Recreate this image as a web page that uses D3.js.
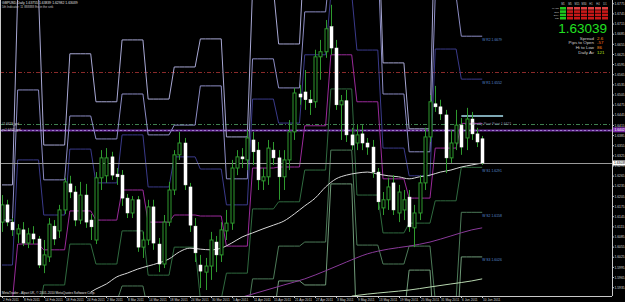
<!DOCTYPE html>
<html><head><meta charset="utf-8">
<script src="https://cdn.jsdelivr.net/npm/d3@7"></script>
<style>html,body{margin:0;padding:0;background:#000;overflow:hidden}svg{display:block}text{font-family:"Liberation Sans",Arial,sans-serif}</style>
</head><body><svg id="c" width="625" height="302"></svg>
<script>
// ---- data ----
const dateLabels = ["2 Feb 2011","8 Feb 2011","14 Feb 2011","18 Feb 2011","24 Feb 2011","2 Mar 2011","8 Mar 2011","14 Mar 2011","18 Mar 2011","24 Mar 2011","30 Mar 2011","5 Apr 2011","11 Apr 2011","15 Apr 2011","21 Apr 2011","27 Apr 2011","3 May 2011","9 May 2011","13 May 2011","19 May 2011","25 May 2011","31 May 2011","6 Jun 2011","10 Jun 2011"];
const dateBars = [0,4,8,12,16,20,24,28,32,36,40,44,48,52,56,60,64,68,72,76,80,84,88,92];
const opens = [1.6129,1.6180,1.6129,1.6094,1.6106,1.6067,1.6094,1.6079,1.6002,1.6026,
1.6117,1.6103,1.6165,1.6242,1.6218,1.6135,1.6209,1.6135,1.6076,1.6260,
1.6266,1.6322,1.6271,1.6268,1.6200,1.6156,1.6195,1.6055,1.6076,1.6174,
1.6064,1.6005,1.6129,1.6224,1.6328,1.6363,1.6233,1.6117,1.6002,1.5981,
1.5999,1.6070,1.6032,1.6103,1.6126,1.6289,1.6322,1.6313,1.6372,1.6342,
1.6251,1.6263,1.6342,1.6319,1.6263,1.6313,1.6396,1.6508,1.6514,1.6491,
1.6485,1.6618,1.6633,1.6707,1.6644,1.6476,1.6488,1.6387,1.6363,1.6390,
1.6363,1.6351,1.6277,1.6171,1.6195,1.6245,1.6156,1.6165,1.6203,1.6112,
1.6156,1.6245,1.6381,1.6479,1.6470,1.6446,1.6319,1.6363,1.6416,1.6378,
1.6434,1.6390,1.63755];
const highs = [1.6209,1.6195,1.6141,1.6123,1.6129,1.6112,1.6117,1.6088,1.6076,1.6141,
1.6135,1.6180,1.6260,1.6266,1.6236,1.6248,1.6242,1.6153,1.6277,1.6342,
1.6348,1.6337,1.6289,1.6283,1.6212,1.6206,1.6206,1.6100,1.6195,1.6195,
1.6082,1.6150,1.6248,1.6342,1.6396,1.6378,1.6245,1.6141,1.6032,1.6023,
1.6100,1.6088,1.6129,1.6165,1.6313,1.6342,1.6348,1.6402,1.6396,1.6366,
1.6289,1.6372,1.6366,1.6342,1.6342,1.6431,1.6526,1.6535,1.6579,1.6520,
1.6639,1.6668,1.6727,1.6772,1.6668,1.6505,1.6520,1.6408,1.6416,1.6416,
1.6378,1.6372,1.6289,1.6218,1.6260,1.6268,1.6239,1.6224,1.6224,1.6180,
1.6268,1.6408,1.6505,1.6532,1.6491,1.6461,1.6402,1.6461,1.6437,1.6467,
1.6455,1.6408,1.63839];
const lows = [1.6100,1.6117,1.6088,1.6067,1.6058,1.6052,1.6064,1.5993,1.5978,1.6011,
1.6061,1.6082,1.6153,1.6200,1.6117,1.6123,1.6112,1.6076,1.6064,1.6224,
1.6245,1.6254,1.6239,1.6177,1.6141,1.6141,1.6041,1.6023,1.6061,1.6047,
1.5981,1.5993,1.6117,1.6209,1.6313,1.6224,1.6100,1.6011,1.5934,1.5928,
1.5958,1.5981,1.6011,1.6076,1.6106,1.6268,1.6289,1.6283,1.6298,1.6224,
1.6224,1.6239,1.6298,1.6195,1.6224,1.6283,1.6372,1.6476,1.6461,1.6446,
1.6467,1.6550,1.6615,1.6624,1.6461,1.6372,1.6366,1.6342,1.6342,1.6342,
1.6328,1.6260,1.6165,1.6150,1.6165,1.6150,1.6129,1.6135,1.6100,1.6055,
1.6135,1.6224,1.6366,1.6455,1.6431,1.6274,1.6304,1.6342,1.6328,1.6342,
1.6372,1.6351,1.62982];
const closes = [1.6180,1.6129,1.6106,1.6109,1.6067,1.6094,1.6079,1.6002,1.6032,1.6123,
1.6079,1.6165,1.6248,1.6218,1.6135,1.6209,1.6129,1.6115,1.6260,1.6319,
1.6319,1.6268,1.6263,1.6200,1.6156,1.6195,1.6055,1.6076,1.6174,1.6067,
1.6005,1.6129,1.6224,1.6328,1.6363,1.6239,1.6120,1.6038,1.5984,1.5999,
1.6076,1.6032,1.6106,1.6126,1.6289,1.6322,1.6316,1.6378,1.6337,1.6254,
1.6263,1.6348,1.6319,1.6263,1.6313,1.6396,1.6511,1.6499,1.6491,1.6482,
1.6618,1.6633,1.6701,1.6644,1.6476,1.6488,1.6387,1.6357,1.6387,1.6363,
1.6351,1.6277,1.6189,1.6195,1.6233,1.6165,1.6218,1.6195,1.6115,1.6156,
1.6245,1.6381,1.6485,1.6470,1.6449,1.6319,1.6363,1.6416,1.6351,1.6434,
1.6390,1.6366,1.63039];

// weekly pivot levels (one value per week)
const weekStarts = [0,3,8,13,18,23,28,33,38,43,48,53,58,63,68,73,78,83,88];
const wR3 = [1.6239,1.6801,1.6357,1.6627,1.6485,1.6668,1.6493,1.6588,1.6671,1.6381,1.6819,1.6656,1.6964,1.7171,1.7068,1.6600,1.6405,1.7092,1.6816];
const wR2 = [1.6135,1.6520,1.6254,1.6443,1.6375,1.6508,1.6387,1.6416,1.6532,1.6257,1.6612,1.6526,1.6751,1.6905,1.6920,1.6508,1.6337,1.6798,1.6679];
const wR1 = [1.6002,1.6313,1.6150,1.6345,1.6245,1.6387,1.6233,1.6322,1.6286,1.6180,1.6493,1.6422,1.6624,1.6804,1.6638,1.6348,1.6266,1.6641,1.6552];
const wPP = [1.5898,1.6064,1.6047,1.6162,1.6135,1.6224,1.6129,1.6150,1.6147,1.6058,1.6289,1.6292,1.6414,1.6624,1.6485,1.6257,1.6200,1.6348,1.6421];
const wS1 = [1.5780,1.5857,1.5943,1.6064,1.6005,1.6103,1.5972,1.6055,1.5901,1.5978,1.6168,1.6189,1.6283,1.6523,1.6209,1.6097,1.6126,1.6192,1.6291];
const wS2 = [1.5662,1.5608,1.5839,1.5881,1.5895,1.5940,1.5866,1.5884,1.5762,1.5854,1.5961,1.6058,1.6070,1.6342,1.6061,1.6005,1.6058,1.5898,1.6158];
const wS3 = [1.5543,1.5454,1.5736,1.5783,1.5765,1.5819,1.5712,1.5789,1.5517,1.5777,1.5842,1.5955,1.5943,1.6242,1.5780,1.5845,1.5987,1.5742,1.6026];

// moving averages (sampled bars)
const maWhiteBars = [17,18,20,22,24,26,28,30,32,34,36,38,40,42,44,46,48,50,52,54,56,58,60,62,64,66,68,70,72,74,76,78,80,82,84,86,88,90,92];
const maWhite = [1.5922,1.5931,1.5946,1.5967,1.5978,1.5990,1.5999,1.6008,1.6020,1.6041,1.6052,1.6049,1.6047,1.6052,1.6067,1.6085,1.6097,1.6109,1.6120,1.6132,1.6153,1.6177,1.6200,1.6233,1.6257,1.6268,1.6274,1.6277,1.6271,1.6266,1.6263,1.6257,1.6263,1.6268,1.6277,1.6283,1.6292,1.6298,1.6304];
const maPurpleBars = [46,50,54,58,62,66,70,74,78,82,86,90,92];
const maPurple = [1.5907,1.5925,1.5943,1.5961,1.5985,1.6011,1.6035,1.6049,1.6058,1.6070,1.6088,1.6106,1.6112];
const maGreenBars = [67,70,74,78,82,86,90,92];
const maGreen = [1.5910,1.5916,1.5922,1.5928,1.5937,1.5946,1.5955,1.5961];

const priceTicks = [1.6775,1.6745,1.6715,1.6685,1.6655,1.6625,1.6595,1.6565,1.6535,1.6505,1.6475,1.6445,1.6415,1.6385,1.6355,1.6325,1.6295,1.6265,1.6235,1.6205,1.6175,1.6145,1.6115,1.6085,1.6055,1.6025,1.5995,1.5965,1.5935];
const levelRed = 1.6573, levelGreen = 1.6419, levelPurple = 1.6402, bid = 1.63039, cyanLevel = 1.6443;

// ---- drawing ----
const svg = d3.select("#c");
const PW = 612, PH = 296;
const x = d3.scaleLinear().domain([0,92]).range([2,482.2]);
const y = d3.scaleLinear().domain([1.59222,1.67861]).range([292,0]);
svg.append("rect").attr("width",625).attr("height",302).attr("fill","#000");
svg.append("defs").append("clipPath").attr("id","clip").append("rect").attr("x",0).attr("y",0).attr("width",PW).attr("height",PH);
const g = svg.append("g").attr("clip-path","url(#clip)");

function hline(v, col, dash, w){ g.append("line").attr("x1",0).attr("x2",PW).attr("y1",Math.round(y(v))+0.5).attr("y2",Math.round(y(v))+0.5).attr("stroke",col).attr("stroke-width",w||1).attr("stroke-dasharray",dash||null); }
hline(levelRed,"#8a2a2a","4,2,1,2");
hline(levelGreen,"#3f7f4f","4,2,1,2");
hline(levelPurple,"#6a2a9a",null,2);
hline(levelPurple,"#a080d0","2,2",1);

const weekOf = i => { let k=0; for(let j=0;j<weekStarts.length;j++) if(i>=weekStarts[j]) k=j; return k; };
const bars = d3.range(opens.length);
const series = [[wR3,"#a8a8d4"],[wR2,"#8c8cc4"],[wR1,"#3a3a8a"],[wPP,"#9a2a9a"],[wS1,"#2f6a3f"],[wS2,"#4c7a58"],[wS3,"#6f9a78"]];
series.forEach(([arr,col])=>{
  const pts = bars.map(i=>({i, v:y(arr[weekOf(i)])}));
  g.append("path").attr("d", d3.line().x(d=>x(d.i)).y(d=>d.v)(pts)).attr("fill","none").attr("stroke",col).attr("stroke-width",1);
});

function ma(barsArr, vals, col){
  g.append("path").attr("d", d3.line().x((d,k)=>x(barsArr[k])).y(d=>y(d)).curve(d3.curveMonotoneX)(vals)).attr("fill","none").attr("stroke",col).attr("stroke-width",1);
}
ma(maPurpleBars, maPurple, "#8a3a9a");
ma(maGreenBars, maGreen, "#b8d8b0");
ma(maWhiteBars, maWhite, "#d8d8d8");

hline(bid,"#9a9a9a",null,1);
g.append("line").attr("x1",x(88)).attr("x2",x(96)).attr("y1",y(cyanLevel)).attr("y2",y(cyanLevel)).attr("stroke","#a8e0f0").attr("stroke-width",1.5);

const bw = 3;
bars.forEach(i=>{
  const o=opens[i], c=closes[i], bull = c>=o;
  const cx = Math.round(x(i))+0.5;
  g.append("line").attr("x1",cx).attr("x2",cx).attr("y1",y(highs[i])).attr("y2",y(lows[i])).attr("stroke","#2e9a2e").attr("stroke-width",1);
  const top = y(Math.max(o,c)), bot = y(Math.min(o,c));
  g.append("rect").attr("x",cx-bw/2).attr("y",top).attr("width",bw).attr("height",Math.max(1,bot-top))
   .attr("fill", bull?"#000":"#ffffff").attr("stroke", bull?"#2e9a2e":"#ffffff").attr("stroke-width",bull?1:0.5);
});

const lastX = x(92);
[[wR2,"W R2"],[wR1,"W R1"],[wS1,"W S1"],[wS2,"W S2"],[wS3,"W S3"]].forEach(([arr,nm])=>{
  const v = arr[arr.length-1];
  svg.append("text").attr("x",lastX).attr("y",y(v)+4.5).attr("font-size",3.4).attr("fill","#5a8ad0").text(nm+"  "+v.toFixed(4));
});
svg.append("text").attr("x",x(90)).attr("y",y(wPP[wPP.length-1])+1.5).attr("font-size",3.4).attr("fill","#8a8aa8").text("Weekly Pivot Point  "+wPP[wPP.length-1].toFixed(4));

svg.append("line").attr("x1",PW+0.5).attr("x2",PW+0.5).attr("y1",0).attr("y2",PH).attr("stroke","#c8c8c8");
svg.append("line").attr("x1",0).attr("x2",PW).attr("y1",PH+0.5).attr("y2",PH+0.5).attr("stroke","#c8c8c8");
svg.append("line").attr("x1",0.5).attr("x2",0.5).attr("y1",0).attr("y2",PH).attr("stroke","#c8c8c8");

priceTicks.forEach(v=>{
  const yy = y(v);
  svg.append("line").attr("x1",PW).attr("x2",PW+2).attr("y1",yy).attr("y2",yy).attr("stroke","#c8c8c8");
  svg.append("text").attr("x",PW+2.5).attr("y",yy+1.2).attr("font-size",3.3).attr("fill","#d8d8d8").text(v.toFixed(4));
});
svg.append("rect").attr("x",PW+1).attr("y",y(levelPurple)-2.5).attr("width",12).attr("height",5).attr("fill","#7a2aa8");
svg.append("text").attr("x",PW+2.5).attr("y",y(levelPurple)+1.2).attr("font-size",3.3).attr("fill","#fff").text(levelPurple.toFixed(4));
svg.append("rect").attr("x",PW+1).attr("y",y(bid)-2.5).attr("width",12).attr("height",5).attr("fill","#fff");
svg.append("text").attr("x",PW+2).attr("y",y(bid)+1.2).attr("font-size",3.3).attr("fill","#000").text(bid.toFixed(5));

dateBars.forEach((b,k)=>{
  const xx = Math.round(x(b))+0.5;
  svg.append("line").attr("x1",xx).attr("x2",xx).attr("y1",PH).attr("y2",PH+2).attr("stroke","#c8c8c8");
  svg.append("text").attr("x",xx+0.5).attr("y",PH+5).attr("font-size",3.2).attr("fill","#d8d8d8").text(dateLabels[k]);
});

svg.append("text").attr("x",2).attr("y",4).attr("font-size",3.4).attr("fill","#e0e0e0").text("GBPUSD,Daily  "+[opens[92],highs[92],lows[92],closes[92]].map(v=>v.toFixed(5)).join(" "));
svg.append("text").attr("x",2).attr("y",8).attr("font-size",3).attr("fill","#c0c0c0").text("5th Indicator: 11 888888 fhs in the sink");
svg.append("text").attr("x",2).attr("y",294).attr("font-size",3.2).attr("fill","#e0e0e0").text("MetaTrader - Alpari UK, © 2001-2010 MetaQuotes Software Corp.");
svg.append("text").attr("x",2).attr("y",y(levelGreen)+1).attr("font-size",3).attr("fill","#d0d0d0").text("#1.6419_grd");
svg.append("text").attr("x",2).attr("y",y(levelPurple)+1).attr("font-size",3).attr("fill","#d0d0d0").text("pt 1.6402_grd");

const tfs = ["M1","M5","M15","M30","H1","H4","D1"];
const rowsN = ["MACD","STR","EMA","RSI"];
tfs.forEach((t,c)=>{
  svg.append("text").attr("x",563+c*7).attr("y",5).attr("font-size",2.6).attr("fill","#c8c8c8").attr("text-anchor","middle").text(t);
  rowsN.forEach((r,ri)=>{
    svg.append("rect").attr("x",560+c*7).attr("y",7+ri*3.3).attr("width",6).attr("height",2.6).attr("fill", c===0?"#1ec81e":(ri===0?"#e04040":"#c81818"));
  });
});
rowsN.forEach((r,ri)=>svg.append("text").attr("x",559).attr("y",9.3+ri*3.3).attr("font-size",2.4).attr("fill","#c8c8c8").attr("text-anchor","end").text(r));
svg.append("text").attr("x",607).attr("y",32.5).attr("font-size",13.5).attr("fill","#22e022").attr("text-anchor","end").text(bid.toFixed(5));
const info = [["Spread","2.6","#ff8c1a"],["Pips to Open","-57","#ff6a1a"],["Hi to Low","86","#ff8c1a"],["Daily Av","121","#b4e01a"]];
info.forEach((d,k)=>{
  svg.append("text").attr("x",594).attr("y",39.5+k*4.9).attr("font-size",4.4).attr("fill","#d0d0d0").attr("text-anchor","end").text(d[0]);
  svg.append("text").attr("x",597).attr("y",39.5+k*4.9).attr("font-size",4.4).attr("fill",d[2]).text(d[1]);
});
</script></body></html>
